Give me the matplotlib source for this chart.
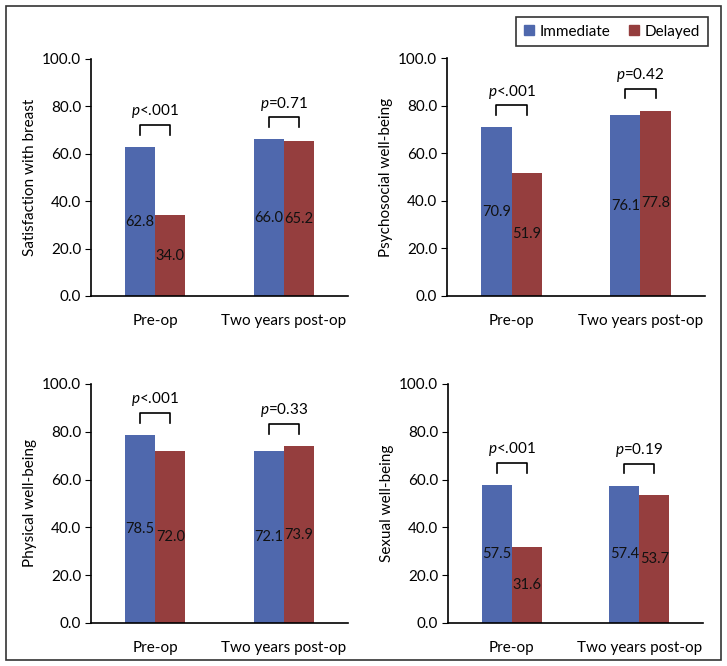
import matplotlib
matplotlib.use('Agg')
import matplotlib.pyplot as plt
from matplotlib.patches import Rectangle, Patch
import numpy as np

plt.rcParams['font.family'] = ['Lato', 'DejaVu Sans']
plt.rcParams['mathtext.fontset'] = 'custom'
plt.rcParams['mathtext.it'] = 'Lato:italic'
plt.rcParams['mathtext.rm'] = 'Lato'

categories = ['Pre-op', 'Two years post-op']
series = ['Immediate', 'Delayed']
colors = ['#4F68AD', '#953E3E']

ylabels = ['Satisfaction with breast', 'Psychosocial well-being',
           'Physical well-being', 'Sexual well-being']
immediate = [[62.8, 66.0], [70.9, 76.1], [78.5, 72.1], [57.5, 57.4]]
delayed = [[34.0, 65.2], [51.9, 77.8], [72.0, 73.9], [31.6, 53.7]]
pvalues = [['<.001', '=0.71'], ['<.001', '=0.42'],
           ['<.001', '=0.33'], ['<.001', '=0.19']]

fig = plt.figure(figsize=(7.27, 6.66), dpi=100)

# axes rectangles (left, bottom, width, height) in figure fraction
rects = [
    [0.1252, 0.5556, 0.3535, 0.3560],
    [0.6149, 0.5556, 0.3548, 0.3570],
    [0.1252, 0.0646, 0.3535, 0.3590],
    [0.6162, 0.0646, 0.3508, 0.3590],
]

x = np.arange(len(categories))
w = 0.235
fs = 11

for i in range(4):
    ax = fig.add_axes(rects[i])
    b1 = ax.bar(x - w / 2, immediate[i], w, color=colors[0])
    b2 = ax.bar(x + w / 2, delayed[i], w, color=colors[1])
    for bars, vals in [(b1, immediate[i]), (b2, delayed[i])]:
        for bar, v in zip(bars, vals):
            ax.text(bar.get_x() + bar.get_width() / 2, v / 2, f'{v:.1f}',
                    ha='center', va='center', fontsize=10.5, color='#111111')
    for j in range(len(categories)):
        top = max(immediate[i][j], delayed[i][j]) + 9.3
        x0 = x[j] - w / 2
        x1 = x[j] + w / 2
        ax.plot([x0, x0, x1, x1], [top - 4, top, top, top - 4],
                color='black', lw=1.2)
        ax.text(x[j], top + 2.0, '$p$' + pvalues[i][j],
                ha='center', va='bottom', fontsize=fs)
    ax.set_xlim(-0.5, 1.5)
    ax.set_ylim(0, 100)
    ax.set_yticks(np.arange(0, 101, 20))
    ax.set_yticklabels([f'{t:.1f}' for t in np.arange(0, 101, 20)])
    ax.set_xticks(x)
    ax.set_xticklabels(categories)
    ax.tick_params(axis='x', length=0, pad=13, labelsize=fs)
    ax.tick_params(axis='y', length=4, direction='out', labelsize=fs, pad=3)
    ax.spines['top'].set_visible(False)
    ax.spines['right'].set_visible(False)
    ax.spines['left'].set_linewidth(1.2)
    ax.spines['bottom'].set_linewidth(1.2)
    ax.set_ylabel(ylabels[i], fontsize=fs, labelpad=4)

handles = [Patch(color=c, label=s) for c, s in zip(colors, series)]
leg = fig.legend(handles=handles, loc='upper right', ncol=2,
                 bbox_to_anchor=(0.974, 0.9745), frameon=True, fancybox=False,
                 edgecolor='black', fontsize=fs, handlelength=0.65,
                 handleheight=0.65, handletextpad=0.4, columnspacing=1.2,
                 borderpad=0.5, borderaxespad=0)
leg.get_frame().set_linewidth(1.2)

fig.patches.append(Rectangle((6 / 727, 1 - 660 / 666), 715 / 727, 654 / 666,
                             transform=fig.transFigure, fill=False,
                             edgecolor='#333333', lw=1.2))

fig.savefig('out.png', dpi=100)
